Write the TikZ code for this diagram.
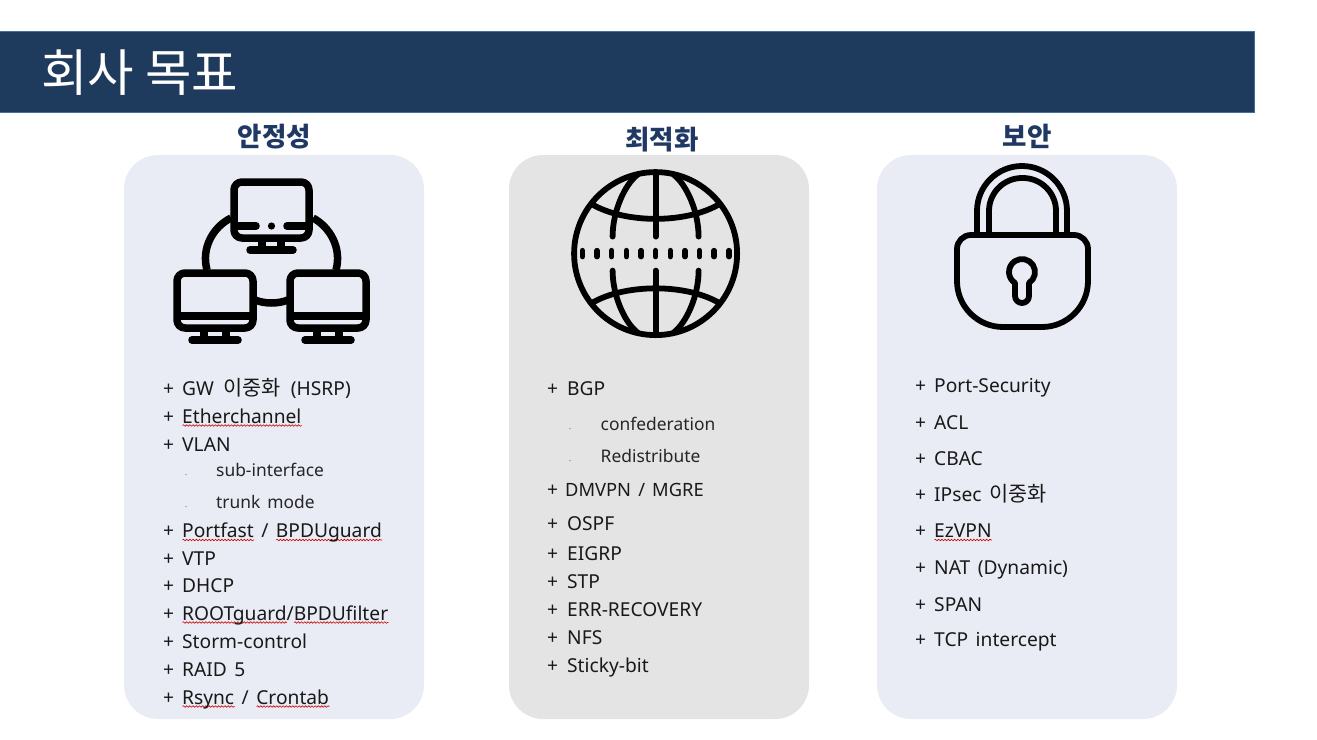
\documentclass[tikz,border=0pt]{standalone}
\usepackage{fontspec}
\setmainfont[WordSpace=1.5]{Noto Sans}
\newfontfamily\krfont{Noto Sans CJK KR}
\usetikzlibrary{decorations.pathmorphing}

\definecolor{barblue}{HTML}{1E3A5C}
\definecolor{barline}{HTML}{41719C}
\definecolor{headblue}{HTML}{203864}
\definecolor{panelblue}{HTML}{E9ECF4}
\definecolor{panelgray}{HTML}{E4E4E4}

\newlength{\wavewd}
\newcommand{\redwave}[1]{\settowidth{\wavewd}{#1}\rlap{\raisebox{-3.6pt}{\tikz\draw[red!80!black,line width=0.6pt,decorate,decoration={snake,segment length=3.2pt,amplitude=0.8pt}] (0pt,0pt) -- (\wavewd,0pt);}}#1}

\tikzset{
	panel/.style={rectangle,rounded corners=34pt,minimum width=300pt,minimum height=564pt,inner sep=0pt},
	headtext/.style={inner sep=0pt,text=headblue,font=\krfont\bfseries\fontsize{26.5}{30}\selectfont},
	itemtext/.style={anchor=base west,inner sep=0pt,yshift=-1pt,text=black!90,font=\fontsize{19.2}{23}\selectfont},
	subtext/.style={anchor=base west,inner sep=0pt,yshift=-1.2pt,text=black!85,font=\fontsize{17.4}{21}\selectfont},
	dotmark/.style={anchor=base,inner sep=0pt,text=black!60,font=\fontsize{9}{9}\selectfont},
	iconline/.style={draw=black,line width=7.5pt,line cap=round,line join=round},
	thinline/.style={iconline,line width=5.8pt},
	monitor/.pic={
		\draw[iconline,rounded corners=8pt] (-38,0) rectangle (38,55);
		\draw[iconline,line cap=butt] (-38,43) -- (38,43);
		\draw[iconline,line cap=butt] (-11,55) -- (-11,67);
		\draw[iconline,line cap=butt] (11,55) -- (11,67);
		\draw[iconline] (-23,67) -- (23,67);
	}
}

\begin{document}
\begin{tikzpicture}[x=1pt,y=-1pt]
	\useasboundingbox (0,0) rectangle (1317,739);

	\node[rectangle,draw=barline,fill=barblue,line width=0.8pt,minimum width=1255pt,minimum height=81.5pt,inner sep=0pt] (titlebar) at (627,72) {};
	\node[anchor=base west,inner sep=0pt,text=white,font=\krfont\fontsize{50.5}{54}\selectfont] (titletext) at (41,91) {회사 목표};

	\node[panel,fill=panelblue] (stablepanel) at (274,437) {};
	\node[panel,fill=panelgray] (optpanel) at (659,437) {};
	\node[panel,fill=panelblue] (securepanel) at (1027,437) {};

	\node[headtext] (stablehead) at (274.5,137) {안정성};
	\node[headtext] (opthead) at (662,140) {최적화};
	\node[headtext] (securehead) at (1027,136) {보안};

	% network icon
	\draw[iconline,rounded corners=8pt] (234,182) rectangle (309,238);
	\draw[iconline] (237,226) -- (256,226);
	\draw[iconline] (287,226) -- (306,226);
	\fill (271.5,226) circle (3.6pt);
	\draw[iconline,line cap=butt] (262,238) -- (262,250);
	\draw[iconline,line cap=butt] (281,238) -- (281,250);
	\draw[iconline] (250,250) -- (293,250);
	\pic at (215,273) {monitor};
	\pic at (328,273) {monitor};
	\draw[iconline,line cap=butt] (231,218) .. controls (213,227) and (201,248) .. (207,270);
	\draw[iconline,line cap=butt] (313,218) .. controls (330,227) and (342,248) .. (336,270);
	\draw[iconline,line cap=butt] (255,300) .. controls (265,304) and (278,304) .. (288,300);

	% globe icon
	\begin{scope}[shift={(655.6,253.6)}]
		\draw[thinline] (0,0) circle (81.5pt);
		\foreach \sx in {-1,1}{
			\foreach \sy in {-1,1}{
				\draw[thinline,xscale=\sx,yscale=\sy] (18,79) .. controls (31,69) and (43,42) .. (43,17);
			}
		}
		\foreach \sy in {-1,1}{
			\draw[thinline,yscale=\sy] (0,81) -- (0,17);
			\draw[thinline,line cap=butt,yscale=\sy] (-63,49) .. controls (-30,30) and (30,30) .. (63,49);
		}
		\foreach \dx in {-5,...,5}{
			\draw[thinline,line width=5.5pt] (\dx*14.65,-3) -- (\dx*14.65,3);
		}
	\end{scope}

	% lock icon
	\draw[thinline,line cap=butt,rounded corners=45pt] (977,233) -- (977,166) -- (1067,166) -- (1067,233);
	\draw[thinline,line cap=butt,rounded corners=33pt] (989,233) -- (989,178) -- (1056,178) -- (1056,233);
	\draw[thinline] (971,235) -- (1074,235) arc (90:0:14pt) -- (1088,281) arc (0:-90:46pt) -- (1003,327) arc (270:180:46pt) -- (957,249) arc (180:90:14pt) -- cycle;
	\draw[thinline] (1029,283) arc (-57.4:237.4:13pt) -- (1015,296) arc (180:360:7pt) -- cycle;

	% first column
	\foreach \ypos/\itemlabel [count=\i] in {394/{GW\hspace{1.5pt} {\fontsize{20.8}{23}\krfont 이중화}\hspace{3pt} (HSRP)},422/{\redwave{Etherchannel}},450/{VLAN},536.5/{\redwave{Portfast} / \redwave{BPDUguard}},564.5/{VTP},591.5/{DHCP},619/{\redwave{ROOTguard}/\redwave{BPDUfilter}},647/{Storm-control},675/{RAID 5},703/{\redwave{Rsync} / \redwave{Crontab}}}{
		\node[itemtext] (stableplus\i) at (163,\ypos) {+};
		\node[itemtext] (stableitem\i) at (182,\ypos) {\itemlabel};
	}
	\foreach \ypos/\itemlabel [count=\i] in {475/{sub-interface},507/{trunk mode}}{
		\node[dotmark] (stabledot\i) at (186,\ypos) {.};
		\node[subtext] (stablesub\i) at (216,\ypos) {\itemlabel};
	}

	% second column
	\foreach \ypos/\itemlabel [count=\i] in {394.5/{BGP},529/{OSPF},559/{EIGRP},587/{STP},615.5/{ERR-RECOVERY},643.5/{NFS},671.5/{Sticky-bit}}{
		\node[itemtext] (optplus\i) at (547,\ypos) {+};
		\node[itemtext] (optitem\i) at (567,\ypos) {\itemlabel};
	}
	\node[itemtext] (optplusd) at (547,495) {+};
	\node[itemtext,font=\fontsize{18.3}{22}\selectfont] (optitemd) at (565,495) {DMVPN / MGRE};
	\foreach \ypos/\itemlabel [count=\i] in {429/{confederation},461.5/{Redistribute}}{
		\node[dotmark] (optdot\i) at (570,\ypos) {.};
		\node[subtext] (optsub\i) at (600.5,\ypos) {\itemlabel};
	}

	% third column
	\foreach \ypos/\itemlabel [count=\i] in {391.5/{Port-Security},428/{ACL},464/{CBAC},500/{IPsec {\fontsize{20.8}{23}\krfont 이중화}},536.5/{\redwave{EzVPN}},573/{NAT (Dynamic)},610/{SPAN},645.5/{TCP intercept}}{
		\node[itemtext] (secureplus\i) at (915,\ypos) {+};
		\node[itemtext] (secureitem\i) at (934,\ypos) {\itemlabel};
	}
\end{tikzpicture}
\end{document}
